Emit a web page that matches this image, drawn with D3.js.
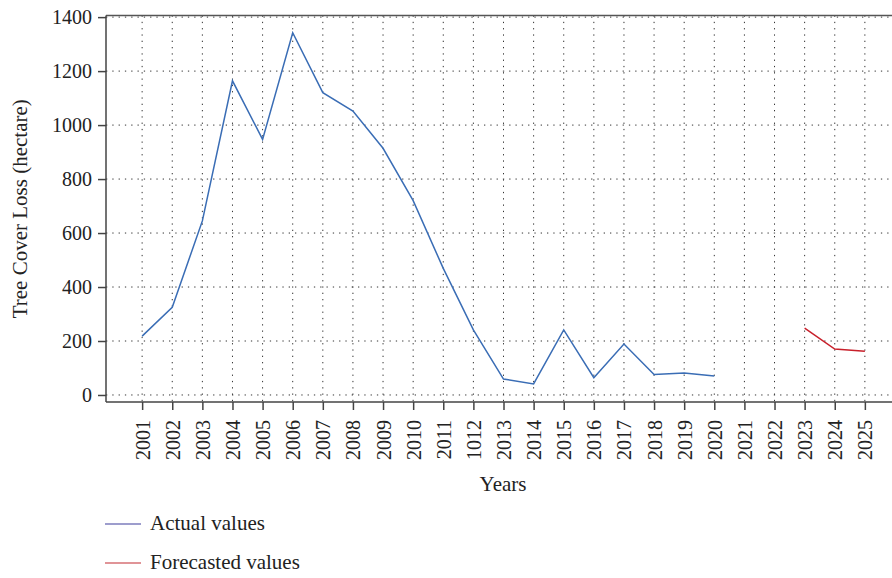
<!doctype html>
<html>
<head>
<meta charset="utf-8">
<title>Tree cover loss</title>
<script src="https://cdn.jsdelivr.net/npm/d3@7"></script>
<style>
  body { margin: 0; background: #fff; }
  text { font-family: "Liberation Serif", "DejaVu Serif", serif; fill: #222; }
  .grid line { stroke: #333; stroke-width: 1; stroke-dasharray: 1.3,5; }
  .axis path, .axis line { stroke: #444; stroke-width: 1.5; }
</style>
</head>
<body>
<script>
// data
var years = [2001, 2002, 2003, 2004, 2005, 2006, 2007, 2008, 2009, 2010, 2011, 2012, 2013,
             2014, 2015, 2016, 2017, 2018, 2019, 2020, 2021, 2022, 2023, 2024, 2025];
// tick labels as printed (note "1012" typo in the original)
var yearLabels = ["2001", "2002", "2003", "2004", "2005", "2006", "2007", "2008", "2009", "2010",
                  "2011", "1012", "2013", "2014", "2015", "2016", "2017", "2018", "2019", "2020",
                  "2021", "2022", "2023", "2024", "2025"];
var actualYears = [2001, 2002, 2003, 2004, 2005, 2006, 2007, 2008, 2009, 2010,
                   2011, 2012, 2013, 2014, 2015, 2016, 2017, 2018, 2019, 2020];
var actualValues = [218, 325, 645, 1164, 947, 1342, 1120, 1052, 914, 720,
                    469, 241, 59, 41, 241, 64, 189, 76, 81, 70];
var forecastYears = [2023, 2024, 2025];
var forecastValues = [248, 170, 162];
var yTicks = [0, 200, 400, 600, 800, 1000, 1200, 1400];

var width = 892, height = 578;
var plotL = 106, plotT = 15.5, plotR = 901, plotB = 402;

var svg = d3.select("body").append("svg")
    .attr("width", width)
    .attr("height", height);

var x = d3.scalePoint()
    .domain(years)
    .range([plotL, plotR])
    .padding(1.2);

var y = d3.scaleLinear()
    .domain([-26, 1406])
    .range([plotB, plotT]);

// grid
var grid = svg.append("g").attr("class", "grid");
grid.selectAll(".gx")
    .data(years)
    .enter().append("line")
    .attr("x1", function(d) { return x(d); })
    .attr("x2", function(d) { return x(d); })
    .attr("y1", plotT)
    .attr("y2", plotB);
grid.selectAll(".gy")
    .data(yTicks)
    .enter().append("line")
    .attr("x1", plotL)
    .attr("x2", plotR)
    .attr("y1", function(d) { return y(d); })
    .attr("y2", function(d) { return y(d); });

// top border
svg.append("line")
    .attr("x1", plotL).attr("x2", plotR)
    .attr("y1", plotT).attr("y2", plotT)
    .attr("stroke", "#555").attr("stroke-width", 1.5);

// axes
var xAxis = svg.append("g")
    .attr("class", "axis")
    .attr("transform", "translate(0," + plotB + ")")
    .call(d3.axisBottom(x)
        .tickSizeOuter(0)
        .tickSize(8)
        .tickFormat(function(d, i) { return yearLabels[i]; }));
xAxis.selectAll("text")
    .attr("transform", "rotate(-90)")
    .attr("text-anchor", "end")
    .attr("x", -18)
    .attr("y", 0)
    .attr("dy", "0.35em")
    .style("font-size", "20px");

var yAxis = svg.append("g")
    .attr("class", "axis")
    .attr("transform", "translate(" + plotL + ",0)")
    .call(d3.axisLeft(y)
        .tickValues(yTicks)
        .tickFormat(d3.format("d"))
        .tickSize(8)
        .tickSizeOuter(0)
        .tickPadding(6));
yAxis.selectAll("text").style("font-size", "20px");
yAxis.select(".domain").attr("d", "M0," + plotT + "V" + plotB);
xAxis.select(".domain").attr("d", "M" + plotL + ",0H" + plotR);

// axis titles
svg.append("text")
    .attr("transform", "translate(27," + ((plotT + plotB) / 2) + ") rotate(-90)")
    .attr("text-anchor", "middle")
    .style("font-size", "21px")
    .text("Tree Cover Loss (hectare)");

svg.append("text")
    .attr("x", 503)
    .attr("y", 491)
    .attr("text-anchor", "middle")
    .style("font-size", "21px")
    .text("Years");

// lines
var line = d3.line()
    .x(function(d) { return x(d[0]); })
    .y(function(d) { return y(d[1]); });

svg.append("path")
    .datum(d3.zip(actualYears, actualValues))
    .attr("fill", "none")
    .attr("stroke", "#3a6db5")
    .attr("stroke-width", 1.5)
    .attr("d", line);

svg.append("path")
    .datum(d3.zip(forecastYears, forecastValues))
    .attr("fill", "none")
    .attr("stroke", "#c8202b")
    .attr("stroke-width", 1.5)
    .attr("d", line);

// legend
var legend = [
    { label: "Actual values", color: "#3d3d9c", y: 524 },
    { label: "Forecasted values", color: "#c22a30", y: 563 }
];
var lg = svg.selectAll(".legend")
    .data(legend)
    .enter().append("g")
    .attr("class", "legend");
lg.append("line")
    .attr("x1", 105).attr("x2", 141)
    .attr("y1", function(d) { return d.y; })
    .attr("y2", function(d) { return d.y; })
    .attr("stroke", function(d) { return d.color; })
    .attr("stroke-width", 1.2);
lg.append("text")
    .attr("x", 150)
    .attr("y", function(d) { return d.y + 6; })
    .style("font-size", "21px")
    .text(function(d) { return d.label; });
</script>
</body>
</html>
